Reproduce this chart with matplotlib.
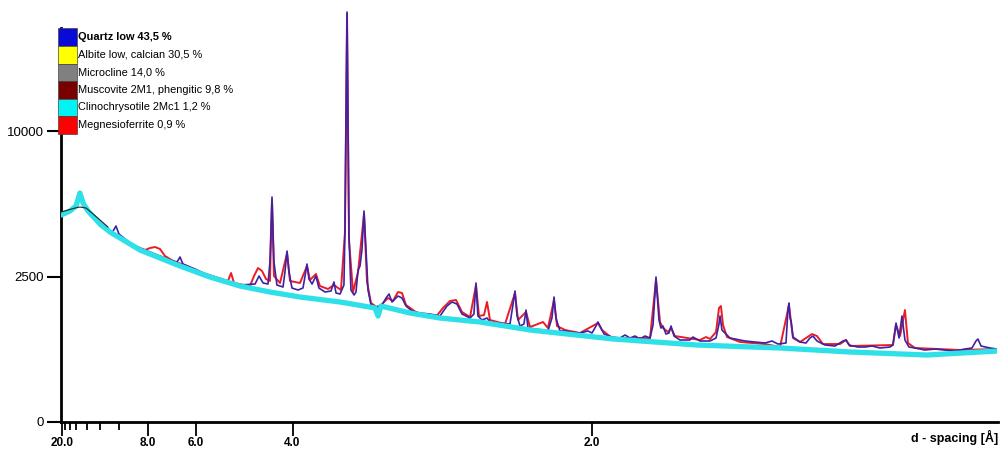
import numpy as np
import matplotlib
matplotlib.use("Agg")
import matplotlib.pyplot as plt
from matplotlib.patches import Rectangle

# phase list (legend)
phases = ["Quartz low 43,5 %", "Albite low, calcian 30,5 %", "Microcline 14,0 %",
          "Muscovite 2M1, phengitic 9,8 %", "Clinochrysotile 2Mc1 1,2 %", "Megnesioferrite 0,9 %"]
phase_colors = ["#0a0ad8", "#ffff00", "#808080", "#7a0000", "#00f4f4", "#ff0000"]

# background / clinochrysotile profile (2theta deg, counts)
bg_tt = [4.34, 5.03, 5.50, 5.80, 6.04, 6.42, 7.35, 8.12, 9.28, 10.43, 11.98, 13.52, 15.83,
         18.15, 20.46, 22.78, 25.87, 28.57, 28.80, 29.03, 31.27, 33.58, 36.67, 40.53, 46.93,
         53.41, 59.82, 65.22, 71.16, 76.56]
bg_cnt = [5060, 5258, 5510, 6193, 5664, 5258, 4630, 4263, 3869, 3494, 3176, 2874, 2483,
          2184, 1996, 1845, 1701, 1535, 1327, 1589, 1403, 1277, 1181, 1000, 814,
          700, 647, 579, 530, 595]

# measured pattern, low angle part (thin black)
low_tt = [4.34, 4.88, 5.42, 5.80, 6.27, 6.73, 7.35, 7.96]
low_cnt = [5208, 5307, 5408, 5459, 5408, 5158, 4819, 4490]

# measured pattern (blue)
obs_tt = [6.96, 7.73, 8.27, 8.58, 8.81, 9.66, 10.43, 11.21, 11.98, 12.75, 13.29, 13.52, 13.75,
          14.68, 15.83, 16.99, 18.15, 19.31, 19.62, 19.93, 20.31, 20.46, 20.62, 20.77, 21.00,
          21.47, 21.62, 21.78, 21.93, 22.16, 22.63, 23.01, 23.17, 23.32, 23.47, 23.71, 24.01,
          24.24, 24.71, 25.17, 25.40, 25.56, 25.87, 26.17, 26.25, 26.41, 26.56, 26.71, 26.95,
          27.10, 27.26, 27.41, 27.56, 27.72, 27.87, 28.03, 28.26, 28.64, 29.11, 29.42, 29.65,
          29.88, 30.34, 30.65, 30.96, 31.42, 32.04, 32.81, 33.58, 34.12, 34.51, 34.89, 35.28,
          35.90, 36.20, 36.36, 36.51, 36.82, 37.21, 37.44, 38.21, 38.98, 39.21, 39.37, 39.52,
          39.75, 40.06, 40.22, 40.37, 40.91, 41.45, 41.91, 42.22, 42.38, 42.53, 42.84, 43.23,
          43.61, 44.38, 45.00, 45.31, 45.62, 45.77, 45.93, 46.24, 46.85, 47.47, 47.86, 48.24,
          48.63, 49.01, 49.40, 49.79, 50.02, 50.25, 50.48, 50.63, 50.79, 51.02, 51.25, 51.41,
          51.64, 52.10, 52.87, 53.10, 53.64, 54.42, 54.88, 55.11, 55.19, 55.34, 55.57, 55.96,
          56.34, 57.11, 57.89, 58.66, 59.20, 59.66, 60.28, 60.43, 60.51, 60.59, 60.67, 60.82,
          61.36, 61.82, 62.13, 62.36, 62.67, 63.29, 64.06, 64.68, 64.91, 65.14, 65.83, 66.37,
          66.92, 67.53, 68.30, 68.53, 68.77, 69.00, 69.23, 69.46, 69.77, 70.23, 71.00, 71.78,
          72.55, 73.32, 74.09, 74.63, 74.94, 75.09, 75.33, 76.02, 76.56]
obs_cnt = [4819, 4537, 4219, 4537, 4174, 3784, 3575, 3413, 3254, 3099, 3023, 3215, 2948,
           2764, 2517, 2348, 2216, 2249, 2517, 2282, 2249, 3023, 5978, 3023, 2216,
           2152, 2657, 3453, 2657, 2120, 2058, 2120, 2517, 2948, 2415, 2249, 2517,
           2120, 1996, 2027, 2315, 1965, 1935, 2216, 4353, 19851, 4130, 2058, 1905,
           1996, 2728, 2874, 3494, 5258, 3494, 2058, 1617, 1562, 1617, 1816, 1935,
           1701, 1875, 1816, 1589, 1455, 1403, 1377, 1327, 1589, 1701, 1644, 1377,
           1277, 1377, 2282, 1327, 1229, 1277, 1181, 1157, 1134, 1617, 2027, 1352,
           1088, 1134, 1481, 1043, 1021, 1000, 978, 1277, 1845, 1277, 978, 978,
           957, 935, 978, 935, 1088, 1181, 1088, 914, 853, 833, 894, 833,
           873, 814, 873, 833, 1111, 2483, 1229, 1043, 1088, 914, 935, 1088,
           873, 794, 794, 853, 775, 775, 833, 1134, 1327, 1000, 935, 833,
           814, 775, 756, 737, 775, 718, 737, 1481, 1672, 1277, 1205, 853,
           756, 737, 833, 873, 775, 700, 682, 775, 794, 700, 664, 664,
           682, 647, 664, 700, 1157, 833, 1327, 794, 664, 647, 612, 629,
           612, 595, 629, 647, 775, 814, 682, 647, 629]

# calculated pattern (red)
calc_tt = [7.35, 9.66, 10.82, 11.21, 11.59, 11.98, 12.36, 13.13, 13.67, 15.06, 17.22, 17.46,
           17.69, 18.92, 19.23, 19.54, 19.85, 20.16, 20.46, 20.62, 20.77, 21.24, 21.78, 22.01,
           22.78, 23.32, 23.55, 24.01, 24.32, 24.94, 25.40, 25.94, 26.25, 26.41, 26.56, 26.87,
           27.26, 27.72, 27.95, 28.26, 28.80, 29.57, 29.95, 30.34, 30.65, 30.96, 32.04, 33.20,
           33.81, 34.35, 34.82, 35.28, 35.90, 36.36, 36.59, 36.98, 37.21, 37.44, 38.60, 39.37,
           39.60, 40.22, 40.53, 41.53, 41.91, 42.38, 42.61, 43.23, 44.38, 45.77, 46.08, 46.85,
           49.79, 50.25, 50.56, 50.79, 51.18, 51.41, 51.71, 53.64, 54.11, 54.42, 54.88, 55.11,
           55.26, 55.42, 55.73, 56.73, 58.66, 59.82, 60.51, 60.82, 61.36, 62.29, 62.67, 63.13,
           64.45, 64.91, 65.22, 68.53, 68.77, 69.08, 69.46, 69.69, 70.23, 73.71, 76.56]
calc_cnt = [4537, 3742, 3494, 3575, 3617, 3534, 3254, 3023, 2948, 2657, 2348, 2622,
            2282, 2184, 2517, 2801, 2693, 2415, 2348, 5820, 2517, 2282, 3373, 2348,
            2282, 2874, 2381, 2587, 2184, 2089, 2216, 2058, 4263, 19658, 3912, 1996,
            2657, 5109, 2315, 1672, 1535, 1816, 1729, 1996, 1965, 1617, 1352, 1277,
            1535, 1729, 1758, 1429, 1302, 2216, 1327, 1352, 1701, 1229, 1134, 1965,
            1229, 1429, 1066, 1181, 1043, 1758, 1088, 1000, 935, 1157, 1000, 833,
            833, 2381, 1181, 1043, 957, 1043, 873, 794, 853, 814, 957, 1535,
            1589, 1111, 853, 756, 718, 664, 1617, 833, 756, 914, 873, 718,
            718, 794, 682, 700, 1111, 873, 1481, 737, 647, 612, 629]

major_d = [20.0, 8.0, 6.0, 4.0, 2.0]
minor_d = [19.0, 17.5, 16.0, 14.0, 12.0, 10.0]
y_ticks = [0, 2500, 10000]

wavelength = 1.5406  # Cu K-alpha


def d_to_tt(d):
    return 2 * np.degrees(np.arcsin(wavelength / (2 * np.asarray(d))))


W, H = 1006, 449
fig = plt.figure(figsize=(W / 100, H / 100), dpi=100)
ax = fig.add_axes([60.5 / W, 1 - 422 / H, 937 / W, (422 - 10.5) / H])

ax.plot(calc_tt, calc_cnt, color="#ec1c24", lw=1.4, zorder=2)
ax.plot(obs_tt, obs_cnt, color="#3d22a6", lw=1.2, zorder=3)
ax.plot(bg_tt, bg_cnt, color="#2ee0e8", lw=3.8, zorder=4, solid_capstyle="round")
ax.plot(low_tt, low_cnt, color="#222222", lw=0.8, zorder=5)

ax.set_yscale("function", functions=(lambda v: np.sqrt(np.clip(v, 0, None)), lambda v: np.square(v)))
ax.set_ylim(0, 20000)
ax.set_xlim(4.3, 76.6)

for s in ["top", "right"]:
    ax.spines[s].set_visible(False)
for s in ["left", "bottom"]:
    ax.spines[s].set_linewidth(2)
ax.spines["left"].set_bounds(0, 18300)

ax.set_yticks(y_ticks)
ax.set_yticklabels([str(v) for v in y_ticks], fontsize=9.5, family="Liberation Sans")
ax.tick_params(axis="y", length=10, width=1.5, pad=2)

ax.set_xticks(d_to_tt(major_d))
ax.set_xticklabels(["%.1f" % d for d in major_d], fontsize=8.5, fontweight="bold",
                   family="Liberation Sans")
ax.set_xticks(d_to_tt(minor_d), minor=True)
ax.tick_params(axis="x", which="major", length=10, width=1.3, pad=1)
ax.tick_params(axis="x", which="minor", length=5.5, width=1.3)

fig.text(998 / W, 1 - 437 / H, "d - spacing [Å]", ha="right", va="center",
         fontsize=9, fontweight="bold", family="Liberation Sans")

# legend boxes
row_h = 17.6
top = 28.3
for i, (name, col) in enumerate(zip(phases, phase_colors)):
    y0 = top + i * row_h
    fig.add_artist(Rectangle((58.3 / W, 1 - (y0 + row_h) / H), 18.5 / W, row_h / H,
                             transform=fig.transFigure, facecolor=col,
                             edgecolor="#444444", lw=0.5, zorder=10))
    fig.text(78.5 / W, 1 - (y0 + row_h / 2) / H, name, ha="left", va="center",
             fontsize=7.9, family="Liberation Sans",
             fontweight="bold" if i == 0 else "normal", zorder=11)

fig.savefig("out.png", dpi=100)
